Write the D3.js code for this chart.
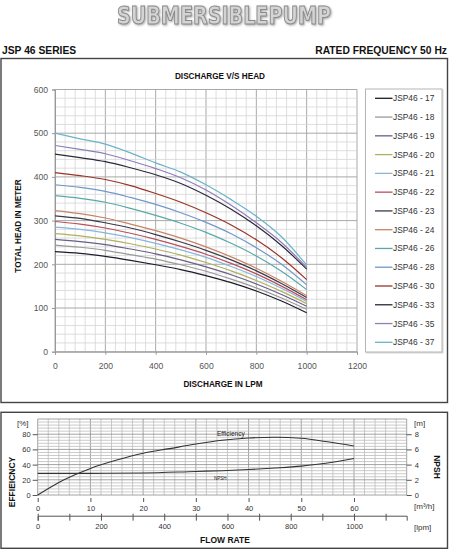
<!DOCTYPE html>
<html><head><meta charset="utf-8">
<script src="https://cdn.jsdelivr.net/npm/d3@7"></script>
<style>
html,body{margin:0;padding:0;background:#fff;}
svg{display:block;font-family:"Liberation Sans",Arial,sans-serif;}
</style></head>
<body><svg id="c" width="449" height="550"></svg>
<script>
// ---------- DATA ----------
const flowLpm = [0,100,200,300,400,500,600,700,800,900,1000];
const seriesNames = ["JSP46 - 17","JSP46 - 18","JSP46 - 19","JSP46 - 20","JSP46 - 21","JSP46 - 22","JSP46 - 23","JSP46 - 24","JSP46 - 26","JSP46 - 28","JSP46 - 30","JSP46 - 33","JSP46 - 35","JSP46 - 37"];
const seriesColors = ["#1c1c2a","#9a9a9a","#6a5f86","#b0b060","#86b6dc","#b8505c","#3a3a48","#c98466","#58aaa8","#7098cc","#9a3428","#2a2a3a","#8f7dbd","#6ab4c8"];
const h17 = [229,225,218,209,199,188,174,158,139,116,89];
const h18 = [244,239,232,222,212,199,184,166,146,123,97];
const h19 = [257,252,245,235,224,210,194,176,155,131,104];
const h20 = [270,265,257,247,235,221,204,185,163,138,110];
const h21 = [285,280,272,261,248,233,216,195,172,145,115];
const h22 = [298,292,283,271,257,241,223,202,178,150,119];
const h23 = [311,305,295,283,268,251,232,210,185,156,124];
const h24 = [323,316,306,292,277,260,240,217,191,161,128];
const h26 = [357,351,342,328,312,294,273,248,219,184,142];
const h28 = [382,376,367,353,337,318,296,270,238,200,153];
const h30 = [410,403,394,380,362,342,318,290,256,215,165];
const h33 = [452,444,435,421,405,385,358,326,288,243,189];
const h35 = [472,463,453,437,419,398,370,335,295,250,193];
const h37 = [500,487,475,455,432,411,382,348,310,263,198];
const headSeries = [h17,h18,h19,h20,h21,h22,h23,h24,h26,h28,h30,h33,h35,h37];
const headYTicks = [0,100,200,300,400,500,600];
const headXTicks = [0,200,400,600,800,1000,1200];

const effFlow = [0,5,10,15,20,25,30,35,40,45,50,55,60];
const effValues = [0,20,35,46,55,61,67,72,75,76,74.6,70,64.5];
const npshFlow = [0,10,20,30,35,40,45,50,55,60];
const npshValues = [2.85,2.85,2.9,3.1,3.2,3.35,3.55,3.8,4.2,4.8];
const effTicks = [0,20,40,60,80];
const npshTicks = [0,2,4,6,8];
const m3hTicks = [0,10,20,30,40,50,60];
const lpmLabelTicks = [0,200,400,600,800,1000];

// ---------- DRAW ----------
const svg = d3.select("#c");

// Header title
svg.append("text").attr("x",224).attr("y",23.5).attr("text-anchor","middle")
  .attr("font-family","'DejaVu Sans Condensed','Liberation Sans Narrow',sans-serif").attr("font-weight","bold")
  .attr("font-size",25).attr("textLength",214).attr("lengthAdjust","spacingAndGlyphs")
  .attr("fill","#d4d4d4").attr("stroke","#8a8a8a").attr("stroke-width",1)
  .style("filter","drop-shadow(1px 1px 1px rgba(0,0,0,0.35))")
  .text("SUBMERSIBLEPUMP");

svg.append("text").attr("x",2).attr("y",54).attr("font-weight","bold").attr("font-size",10.3).attr("fill","#111").text("JSP 46 SERIES");
svg.append("text").attr("x",447).attr("y",54).attr("text-anchor","end").attr("font-weight","bold").attr("font-size",10.3).attr("fill","#111").text("RATED FREQUENCY 50 Hz");

// Top box
svg.append("rect").attr("x",1).attr("y",58.5).attr("width",446.5).attr("height",344).attr("fill","none").attr("stroke","#444").attr("stroke-width",1.4);

// Top chart scales
const x = d3.scaleLinear().domain([0,1200]).range([55,357]);
const y = d3.scaleLinear().domain([0,600]).range([351.7,89.5]);

const gTop = svg.append("g");
gTop.append("g").selectAll("line").data(d3.range(0,1201,40)).join("line")
  .attr("x1",d=>x(d)).attr("x2",d=>x(d)).attr("y1",y(0)).attr("y2",y(600))
  .attr("stroke",d=>d%200===0?"#a9a9a9":"#d6d6d6").attr("stroke-width",d=>d%200===0?1:0.8);
gTop.append("g").selectAll("line").data(d3.range(0,601,20)).join("line")
  .attr("x1",x(0)).attr("x2",x(1200)).attr("y1",d=>y(d)).attr("y2",d=>y(d))
  .attr("stroke",d=>d%100===0?"#a9a9a9":"#d6d6d6").attr("stroke-width",d=>d%100===0?1:0.8);

const ax = gTop.append("g").attr("transform",`translate(0,${y(0)})`)
  .call(d3.axisBottom(x).tickValues(headXTicks).tickFormat(d3.format("d")).tickSize(3).tickPadding(8));
ax.select(".domain").attr("stroke","#999");
ax.selectAll(".tick line").attr("stroke","#999");
ax.selectAll("text").attr("font-size",8.6).attr("fill","#555").attr("font-family","'Liberation Sans',Arial,sans-serif");
const ay = gTop.append("g").attr("transform",`translate(${x(0)},0)`)
  .call(d3.axisLeft(y).tickValues(headYTicks).tickFormat(d3.format("d")).tickSize(3).tickPadding(4));
ay.select(".domain").attr("stroke","#999");
ay.selectAll(".tick line").attr("stroke","#999");
ay.selectAll("text").attr("font-size",8.6).attr("fill","#555").attr("font-family","'Liberation Sans',Arial,sans-serif");

const line = d3.line().x((d,i)=>x(flowLpm[i])).y(d=>y(d)).curve(d3.curveMonotoneX);
gTop.append("g").selectAll("path").data(headSeries).join("path")
  .attr("d",line).attr("fill","none")
  .attr("stroke",(d,i)=>seriesColors[i]).attr("stroke-width",1.2);

gTop.append("text").attr("x",220).attr("y",79).attr("text-anchor","middle").attr("font-weight","bold").attr("font-size",8.2).attr("fill","#111").text("DISCHARGE V/S HEAD");
gTop.append("text").attr("x",223).attr("y",387).attr("text-anchor","middle").attr("font-weight","bold").attr("font-size",8.2).attr("fill","#111").text("DISCHARGE IN LPM");
gTop.append("text").attr("transform","translate(20.5,226) rotate(-90)").attr("text-anchor","middle").attr("font-weight","bold").attr("font-size",8.2).attr("fill","#111").text("TOTAL HEAD IN METER");

const lg = gTop.append("g");
lg.append("rect").attr("x",365.5).attr("y",89).attr("width",76.5).attr("height",263).attr("fill","#fff").attr("stroke","#b5b5b5").attr("stroke-width",1)
  .style("filter","drop-shadow(1px 1px 0.5px rgba(0,0,0,0.15))");
const li = lg.selectAll("g.item").data(seriesNames).join("g").attr("class","item")
  .attr("transform",(d,i)=>`translate(0,${98.3+i*18.77})`);
li.append("line").attr("x1",375).attr("x2",392.5).attr("y1",0).attr("y2",0).attr("stroke",(d,i)=>seriesColors[i]).attr("stroke-width",1.3);
li.append("text").attr("x",393).attr("y",3).attr("font-size",8.4).attr("fill","#333").text(d=>d);

// ---------- Bottom chart ----------
svg.append("rect").attr("x",1).attr("y",412.3).attr("width",446.5).attr("height",136).attr("fill","none").attr("stroke","#444").attr("stroke-width",1.4);

const xf = d3.scaleLinear().domain([0,70]).range([37.7,406.7]);
const ye = d3.scaleLinear().domain([0,100]).range([495,419]);
const yn = d3.scaleLinear().domain([0,10]).range([495,419]);
const xl = d3.scaleLinear().domain([0,70000/60]).range([37.7,406.7]);

const gB = svg.append("g");
gB.append("g").selectAll("line").data(d3.range(0,71,2)).join("line")
  .attr("x1",d=>xf(d)).attr("x2",d=>xf(d)).attr("y1",ye(0)).attr("y2",ye(100))
  .attr("stroke",d=>d%10===0?"#8a8a8a":"#bdbdbd").attr("stroke-width",0.8);
gB.append("g").selectAll("line").data(d3.range(0,101,4)).join("line")
  .attr("x1",xf(0)).attr("x2",xf(70)).attr("y1",d=>ye(d)).attr("y2",d=>ye(d))
  .attr("stroke",d=>d%20===0?"#8a8a8a":"#bdbdbd").attr("stroke-width",0.8);

const bl = gB.append("g").attr("transform",`translate(${xf(0)},0)`)
  .call(d3.axisLeft(ye).tickValues(effTicks).tickSize(5).tickPadding(2));
bl.select(".domain").remove();
bl.selectAll(".tick line").attr("stroke","#555");
bl.selectAll("text").attr("font-size",7.5).attr("fill","#333");
const br = gB.append("g").attr("transform",`translate(${xf(70)},0)`)
  .call(d3.axisRight(yn).tickValues(npshTicks).tickSize(5).tickPadding(3));
br.select(".domain").remove();
br.selectAll(".tick line").attr("stroke","#555");
br.selectAll("text").attr("font-size",7.5).attr("fill","#333");
const bb = gB.append("g").attr("transform",`translate(0,${ye(0)+3})`)
  .call(d3.axisBottom(xf).tickValues(m3hTicks).tickSize(4).tickPadding(4));
bb.select(".domain").remove();
bb.selectAll(".tick line").attr("stroke","#555");
bb.selectAll("text").attr("font-size",7.5).attr("fill","#333");
const bl2 = gB.append("g").attr("transform",`translate(0,515.7)`)
  .call(d3.axisBottom(xl).tickValues(d3.range(0,1101,100)).tickSize(5).tickPadding(3).tickFormat(d=>lpmLabelTicks.includes(d)?d:""));
bl2.select(".domain").attr("stroke","#555");
bl2.selectAll(".tick line").attr("stroke","#555").attr("y1",-2);
bl2.selectAll("text").attr("font-size",7.5).attr("fill","#333");

const effLine = d3.line().x((d,i)=>xf(effFlow[i])).y(d=>ye(d)).curve(d3.curveMonotoneX);
gB.append("path").attr("d",effLine(effValues)).attr("fill","none").attr("stroke","#333").attr("stroke-width",1.1);
const npLine = d3.line().x((d,i)=>xf(npshFlow[i])).y(d=>yn(d)).curve(d3.curveMonotoneX);
gB.append("path").attr("d",npLine(npshValues)).attr("fill","none").attr("stroke","#333").attr("stroke-width",1.1);

gB.append("text").attr("x",217).attr("y",436).attr("font-size",6.5).attr("fill","#222").text("Efficiency");
gB.append("text").attr("x",214).attr("y",480).attr("font-size",4.5).attr("fill","#222").text("NPSH");
gB.append("text").attr("x",17).attr("y",426).attr("font-size",8).attr("fill","#333").text("[%]");
gB.append("text").attr("x",414).attr("y",426).attr("font-size",8).attr("fill","#333").text("[m]");
gB.append("text").attr("x",414).attr("y",509).attr("font-size",8).attr("fill","#333").text("[m³/h]");
gB.append("text").attr("x",414).attr("y",530).attr("font-size",8).attr("fill","#333").text("[lpm]");
gB.append("text").attr("x",225).attr("y",543).attr("text-anchor","middle").attr("font-weight","bold").attr("font-size",8.5).attr("fill","#111").text("FLOW RATE");
gB.append("text").attr("transform","translate(15,482) rotate(-90)").attr("text-anchor","middle").attr("font-weight","bold").attr("font-size",8.5).attr("fill","#111").text("EFFIEICNCY");
gB.append("text").attr("transform","translate(434,467) rotate(90)").attr("text-anchor","middle").attr("font-weight","bold").attr("font-size",8.5).attr("fill","#111").text("NPSH");
</script></body></html>
